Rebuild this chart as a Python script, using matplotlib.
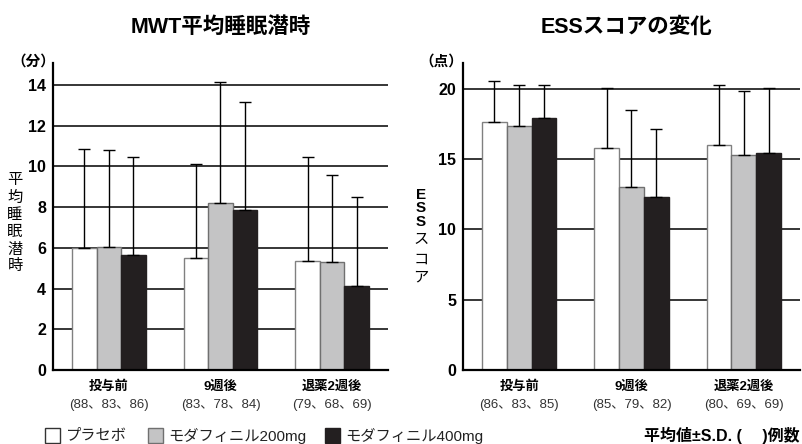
import numpy as np
import matplotlib
matplotlib.use("Agg")
import matplotlib.pyplot as plt
from matplotlib.patches import Rectangle

plt.rcParams['font.family'] = ['Liberation Sans', 'Noto Sans CJK JP', 'DejaVu Sans']

# data
groups = ['投与前', '9週後', '退薬2週後']
series = ['プラセボ', 'モダフィニル200mg', 'モダフィニル400mg']

mwt_mean = [[6.0, 5.5, 5.35],
            [6.05, 8.2, 5.3],
            [5.65, 7.85, 4.15]]
mwt_sd = [[4.85, 4.62, 5.13],
          [4.75, 5.94, 4.3],
          [4.83, 5.3, 4.35]]
mwt_n = ['(88、83、86)', '(83、78、84)', '(79、68、69)']

ess_mean = [[17.63, 15.78, 16.0],
            [17.4, 13.0, 15.3],
            [17.96, 12.34, 15.44]]
ess_sd = [[2.97, 4.27, 4.26],
          [2.86, 5.53, 4.53],
          [2.3, 4.81, 4.61]]
ess_n = ['(86、83、85)', '(85、79、82)', '(80、69、69)']

fills = ['white', '#c4c4c5', '#231f20']
edges = ['#808080', '#707070', '#231f20']


def draw_panel(ax, means, sds, counts, ytop, yticks):
    x = np.arange(len(groups))
    w = 0.22
    for i in range(3):
        ax.bar(x + (i - 1) * w, means[i], w, color=fills[i], edgecolor=edges[i],
               linewidth=1.0, zorder=2,
               yerr=[np.zeros(3), sds[i]],
               error_kw=dict(ecolor='black', elinewidth=1.0, capsize=4.5, capthick=1.0, zorder=3))
    ax.set_xlim(-0.5, 2.5)
    ax.set_ylim(0, ytop)
    ax.set_yticks(yticks)
    ax.yaxis.grid(True, color='black', linewidth=1.1)
    ax.set_axisbelow(True)
    for s in ['top', 'right']:
        ax.spines[s].set_visible(False)
    for s in ['left', 'bottom']:
        ax.spines[s].set_linewidth(1.6)
    ax.tick_params(axis='y', length=0, pad=5, labelsize=11.5)
    for lab in ax.get_yticklabels():
        lab.set_fontweight('bold')
    ax.set_xticks([])
    for xi, g, c in zip(x, groups, counts):
        ax.annotate(g, (xi, 0), xycoords=('data', 'axes fraction'), xytext=(0, -12),
                    textcoords='offset points', ha='center', va='center',
                    fontsize=9.5, fontweight='bold')
        ax.annotate(c, (xi, 0), xycoords=('data', 'axes fraction'), xytext=(0, -25),
                    textcoords='offset points', ha='center', va='center',
                    fontsize=9.5, color='#333333')


W, H = 803, 444
fig = plt.figure(figsize=(W / 100, H / 100), dpi=100)

ax1 = fig.add_axes([53 / W, 1 - 370 / H, 335 / W, 307 / H])
draw_panel(ax1, mwt_mean, mwt_sd, mwt_n, 15.08, [0, 2, 4, 6, 8, 10, 12, 14])
ax2 = fig.add_axes([463 / W, 1 - 370 / H, 337 / W, 307 / H])
draw_panel(ax2, ess_mean, ess_sd, ess_n, 21.85, [0, 5, 10, 15, 20])

# titles and units
fig.text(221 / W, 1 - 27 / H, 'MWT平均睡眠潜時', ha='center', va='center',
         fontsize=15.5, fontweight='bold')
fig.text(627 / W, 1 - 27 / H, 'ESSスコアの変化', ha='center', va='center',
         fontsize=15.5, fontweight='bold')
fig.text(33 / W, 1 - 62 / H, '（分）', ha='center', va='center', fontsize=10.5, fontweight='bold')
fig.text(441 / W, 1 - 62 / H, '（点）', ha='center', va='center', fontsize=10.5, fontweight='bold')

# stacked y labels
for ch, yy in zip('平均睡眠潜時', [180, 198, 215, 232, 250, 266]):
    fig.text(15 / W, 1 - yy / H, ch, ha='center', va='center', fontsize=11)
for ch, yy, wt in zip('ESSスコア', [195, 208, 222, 240, 260, 277],
                      ['bold', 'bold', 'bold', 'normal', 'normal', 'normal']):
    fig.text(421 / W, 1 - yy / H, ch, ha='center', va='center', fontsize=11, fontweight=wt)

# legend
for sx, tx, name, fc, ec in zip([45, 148, 325], [66, 168, 345], series, fills, edges):
    fig.patches.append(Rectangle((sx / W, 1 - 443 / H), 15 / W, 15 / H, facecolor=fc,
                                 edgecolor=ec if fc != 'white' else '#333333',
                                 linewidth=1.0, transform=fig.transFigure, figure=fig))
    fig.text(tx / W, 1 - 435.5 / H, name, ha='left', va='center', fontsize=11, color='#222222')

fig.text(800 / W, 1 - 435.5 / H, '平均値±S.D. (　 )例数', ha='right', va='center',
         fontsize=11.5, fontweight='bold')

fig.savefig('out.png', dpi=100)
